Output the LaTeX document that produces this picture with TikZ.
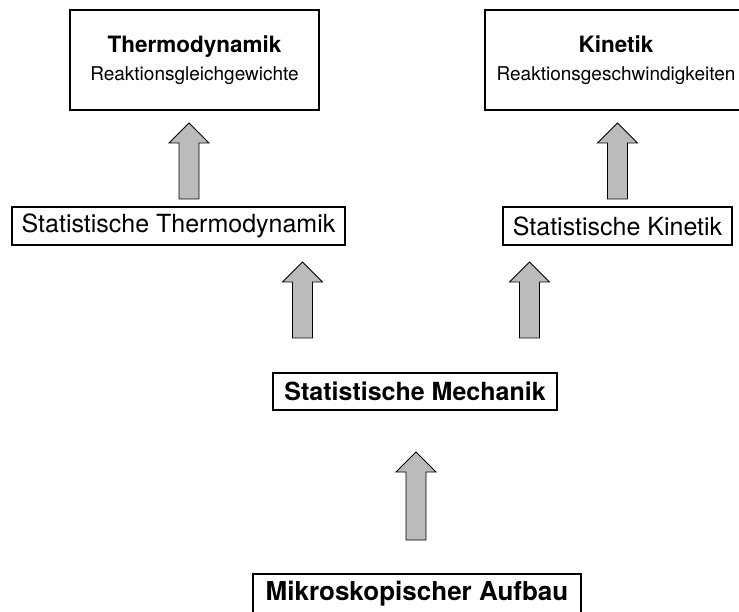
\documentclass[tikz,border=0pt]{standalone}
\usepackage{fontspec}
\setmainfont{TeX Gyre Heros}
\usetikzlibrary{calc}
\definecolor{arrowgray}{RGB}{187,187,187}
\tikzset{
  box/.style={draw, line width=1.9pt, inner sep=0pt, align=center},
  fatarrow/.style={draw, line width=0.9pt, fill=arrowgray, line join=miter}
}
% #1 = foot, #2 = tip of the block arrow
\newcommand{\blockup}[2]{%
  \draw[fatarrow] ($(#1)+(-10,0)$) -- ($(#2)+(-10,20)$) -- ($(#2)+(-20,20)$) -- (#2)
    -- ($(#2)+(20,20)$) -- ($(#2)+(10,20)$) -- ($(#1)+(10,0)$) -- cycle;}
\begin{document}
\begin{tikzpicture}[x=1pt,y=-1pt]
            \useasboundingbox (0,0) rectangle (739,612);
            \node[box, minimum width=249, minimum height=100, font=\fontsize{19}{28}\selectfont] (TD) at (194.5,60)
              {{\fontsize{22.5}{28}\selectfont\bfseries Thermodynamik}\\Reaktionsgleichgewichte};
            \node[box, minimum width=262, minimum height=100, font=\fontsize{19}{28}\selectfont] (K) at (616,60)
              {{\fontsize{22.5}{28}\selectfont\bfseries Kinetik}\\Reaktionsgeschwindigkeiten};
            
            \node[box, minimum width=333, minimum height=38, font=\fontsize{25}{29}\selectfont] (ST) at (178.5,226) {Statistische Thermodynamik};
            \node[box, minimum width=229, minimum height=38, font=\fontsize{25}{29}\selectfont] (SK) at (617.5,226) {Statistische Kinetik};
            \node[box, minimum width=284, minimum height=37, font=\fontsize{25}{29}\selectfont\bfseries] (SM) at (415,391.5) {Statistische Mechanik};
            \node[box, minimum width=328, minimum height=40, font=\fontsize{26}{30}\selectfont\bfseries] (MA) at (417,594) {Mikroskopischer Aufbau};
            
            \coordinate (F1) at (189,199);   \coordinate (T1) at (189,123);
            \coordinate (F2) at (617.5,199); \coordinate (T2) at (617.5,123);
            \coordinate (F3) at (302.5,338); \coordinate (T3) at (302.5,262);
            \coordinate (F4) at (529.5,338); \coordinate (T4) at (529.5,262);
            \coordinate (F5) at (416,540);   \coordinate (T5) at (416,452);
            
            \blockup{F1}{T1}
            \blockup{F2}{T2}
            \blockup{F3}{T3}
            \blockup{F4}{T4}
            \blockup{F5}{T5}
          \end{tikzpicture}
\end{document}
